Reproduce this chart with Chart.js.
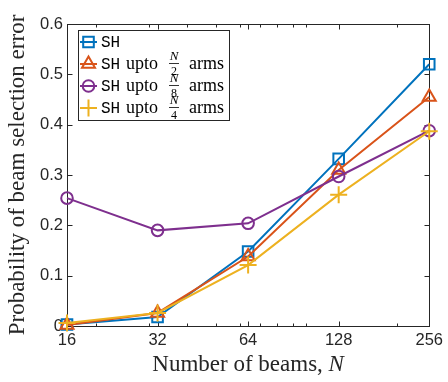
<!DOCTYPE html>
<html>
<head>
<meta charset="utf-8">
<script src="https://cdn.jsdelivr.net/npm/chart.js@4.4.1/dist/chart.umd.min.js"></script>
<style>
  html, body { margin: 0; padding: 0; background: #fff; }
  canvas { display: block; }
</style>
</head>
<body>
<canvas id="grafica" width="448" height="382"></canvas>
<script>
// numero de haces (eje x, escala log2) y error de seleccion por esquema
const beams = [16, 32, 64, 128, 256];
const minorTicks = [20, 30, 40, 50, 60, 70, 80, 90, 100, 200];
const yTicks = [0, 0.1, 0.2, 0.3, 0.4, 0.5, 0.6];

const errSH = [0.003, 0.018, 0.148, 0.332, 0.52];
const errHalf = [0.002, 0.026, 0.138, 0.31, 0.455];
const errEighth = [0.254, 0.19, 0.204, 0.297, 0.388];
const errQuarter = [0.006, 0.026, 0.121, 0.261, 0.387];

const fractions = [null, "2", "8", "4"];

const series = [
  { label: "SH", data: errSH, color: "#0072BD", style: "rect", r: 7.5 },
  { label: "SH upto N/2 arms", data: errHalf, color: "#D95319", style: "triangle", r: 7.5 },
  { label: "SH upto N/8 arms", data: errEighth, color: "#7E2F8E", style: "circle", r: 5.8 },
  { label: "SH upto N/4 arms", data: errQuarter, color: "#EDB120", style: "cross", r: 8.5 }
];

const AXIS = "#262626";
const transparente = "rgba(0,0,0,0)";

function marca(ctx, s, x, y) {
  ctx.save();
  ctx.strokeStyle = s.color;
  ctx.fillStyle = transparente;
  ctx.lineWidth = 2;
  Chart.helpers.drawPoint(ctx, { pointStyle: s.style, radius: s.r, rotation: 0, borderWidth: 2 }, x, y);
  ctx.restore();
}

const marcoEjes = {
  id: "marcoEjes",
  beforeDatasetsDraw(chart) {
    const { ctx, chartArea: a, scales } = chart;
    ctx.save();
    ctx.strokeStyle = AXIS;
    ctx.lineWidth = 1;
    const L = Math.round(a.left) + 0.5, R = Math.round(a.right) + 0.5;
    const T = Math.round(a.top) + 0.5, B = Math.round(a.bottom) + 0.5;
    ctx.strokeRect(L, T, R - L, B - T);
    ctx.beginPath();
    const tickX = (v, len) => {
      const x = Math.round(scales.x.getPixelForValue(v)) + 0.5;
      ctx.moveTo(x, B); ctx.lineTo(x, B - len);
      ctx.moveTo(x, T); ctx.lineTo(x, T + len);
    };
    beams.forEach(v => tickX(v, 5));
    minorTicks.forEach(v => tickX(v, 3));
    yTicks.forEach(v => {
      const y = Math.round(scales.y.getPixelForValue(v)) + 0.5;
      ctx.moveTo(L, y); ctx.lineTo(L + 5, y);
      ctx.moveTo(R, y); ctx.lineTo(R - 5, y);
    });
    ctx.stroke();
    ctx.restore();
  },
  afterDraw(chart) {
    const { ctx, chartArea: a } = chart;
    ctx.save();
    ctx.fillStyle = AXIS;
    ctx.textBaseline = "middle";

    // titulo eje x con N en cursiva
    const t1 = "Number of beams, ";
    ctx.font = '23px "Liberation Serif"';
    const w1 = ctx.measureText(t1).width;
    ctx.font = 'italic 23px "Liberation Serif"';
    const w2 = ctx.measureText("N").width;
    const cx = (a.left + a.right) / 2;
    let x0 = cx - (w1 + w2) / 2;
    ctx.font = '23px "Liberation Serif"';
    ctx.textAlign = "left";
    ctx.fillText(t1, x0, 365);
    ctx.font = 'italic 23px "Liberation Serif"';
    ctx.fillText("N", x0 + w1, 365);

    // titulo eje y
    ctx.save();
    ctx.translate(18, (a.top + a.bottom) / 2);
    ctx.rotate(-Math.PI / 2);
    ctx.textAlign = "center";
    ctx.font = '23px "Liberation Serif"';
    ctx.fillText("Probability of beam selection error", 0, 0);
    ctx.restore();

    // leyenda
    const bx = 78.5, by = 30.5, bw = 151, bh = 90;
    ctx.fillStyle = "#fff";
    ctx.fillRect(bx, by, bw, bh);
    ctx.strokeStyle = AXIS;
    ctx.lineWidth = 1;
    ctx.strokeRect(bx, by, bw, bh);

    const filas = [42, 64, 86, 108];
    series.forEach((s, i) => {
      const y = filas[i];
      ctx.strokeStyle = s.color;
      ctx.lineWidth = 2;
      ctx.beginPath();
      ctx.moveTo(80, y); ctx.lineTo(97, y);
      ctx.stroke();
      marca(ctx, s, 88.5, y);

      ctx.fillStyle = "#000";
      ctx.textAlign = "left";
      ctx.font = '16px "Liberation Mono"';
      ctx.fillText("SH", 101, y + 0.5);
      if (fractions[i]) {
        ctx.font = '18px "Liberation Serif"';
        ctx.fillText("upto", 126, y);
        ctx.textAlign = "center";
        ctx.font = 'italic 13px "Liberation Serif"';
        ctx.fillText("N", 174, y - 7.5);
        ctx.font = '12px "Liberation Serif"';
        ctx.fillText(fractions[i], 174, y + 8);
        ctx.strokeStyle = "#000";
        ctx.lineWidth = 0.8;
        ctx.beginPath();
        ctx.moveTo(169, y - 0.5); ctx.lineTo(179, y - 0.5);
        ctx.stroke();
        ctx.textAlign = "left";
        ctx.font = '18px "Liberation Serif"';
        ctx.fillText("arms", 189, y);
      }
    });
    ctx.restore();
  }
};

const ctx = document.getElementById("grafica").getContext("2d");
new Chart(ctx, {
  type: "line",
  data: {
    datasets: series.map((s, i) => ({
      label: s.label,
      data: beams.map((b, j) => ({ x: b, y: s.data[j] })),
      borderColor: s.color,
      backgroundColor: transparente,
      borderWidth: 2,
      pointStyle: s.style,
      pointRadius: s.r,
      pointBorderWidth: 2,
      pointBorderColor: s.color,
      pointBackgroundColor: transparente,
      tension: 0,
      clip: false,
      order: series.length - i
    }))
  },
  options: {
    responsive: false,
    animation: false,
    events: [],
    layout: { padding: { top: 24, right: 18, left: 0, bottom: 0 } },
    plugins: { legend: { display: false }, tooltip: { enabled: false } },
    scales: {
      x: {
        type: "logarithmic",
        min: 16,
        max: 256,
        afterBuildTicks: s => { s.ticks = beams.map(v => ({ value: v })); },
        afterFit: s => { s.height = 56; },
        grid: { display: false, drawTicks: false },
        border: { display: false },
        ticks: {
          autoSkip: false,
          maxRotation: 0,
          padding: 5,
          color: AXIS,
          font: { family: "Liberation Sans", size: 16.5 },
          callback: v => String(v)
        }
      },
      y: {
        min: 0,
        max: 0.6,
        afterBuildTicks: s => { s.ticks = yTicks.map(v => ({ value: v })); },
        afterFit: s => { s.width = 67; },
        grid: { display: false, drawTicks: false },
        border: { display: false },
        ticks: {
          padding: 4,
          color: AXIS,
          font: { family: "Liberation Sans", size: 16.5 },
          callback: v => (v === 0 ? "0" : v.toFixed(1))
        }
      }
    }
  },
  plugins: [marcoEjes]
});
</script>
</body>
</html>
